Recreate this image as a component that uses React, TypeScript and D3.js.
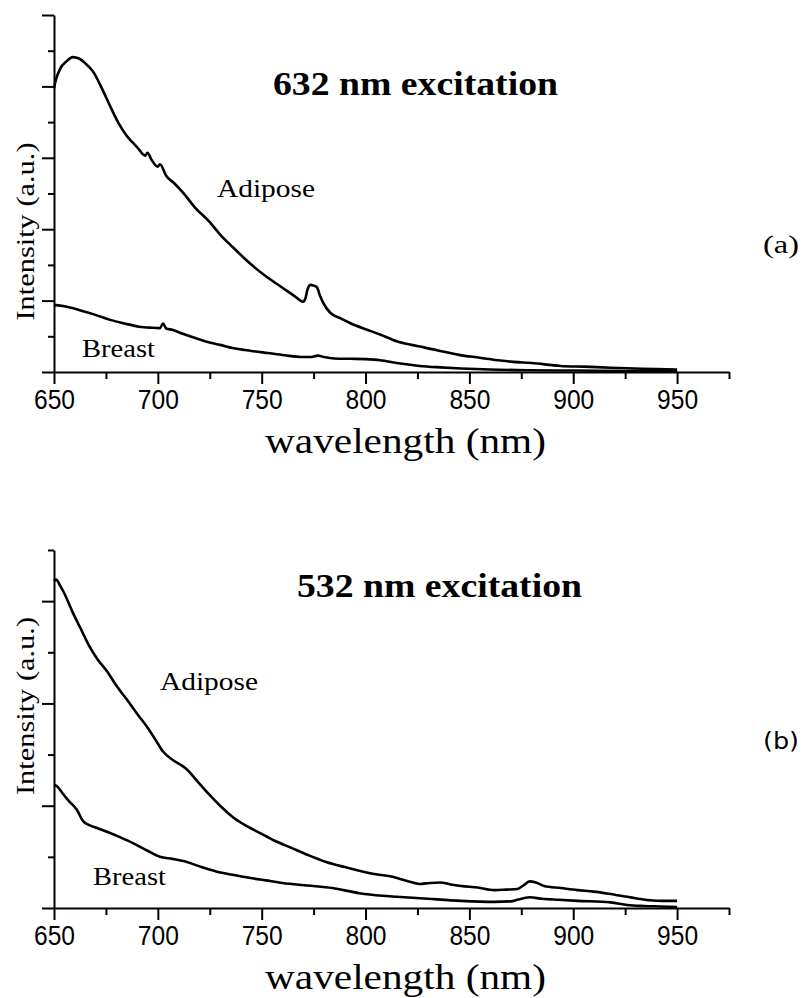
import React, { useEffect, useRef } from 'react';
import * as d3 from 'd3';

// [wavelength nm, intensity a.u.]
const adipose632: [number, number][] = [
  [650, 7.95], [651, 8.2], [653, 8.5], [656, 8.7], [659, 8.82], [662, 8.78], [665, 8.65],
  [669, 8.4], [673, 7.95], [677, 7.45], [681, 6.98], [685, 6.62], [690, 6.3], [694, 6.06],
  [695, 6.14], [697, 5.94], [700, 5.75], [701, 5.82], [704, 5.5], [708, 5.28], [712, 5.03],
  [718, 4.6], [725, 4.2], [730, 3.85], [736, 3.5], [744, 3.06], [752, 2.68], [760, 2.36],
  [766, 2.12], [770, 1.97], [771, 2.05], [772, 2.3], [773.5, 2.44], [775, 2.42], [776.5, 2.38],
  [778, 2.15], [779.5, 1.95], [783, 1.66], [788, 1.5], [793, 1.36], [800, 1.2], [807, 1.05],
  [815, 0.86], [822, 0.76], [828, 0.69], [835, 0.6], [845, 0.48], [855, 0.4], [865, 0.32],
  [870, 0.29], [880, 0.25], [894, 0.17], [905, 0.15], [918, 0.12], [930, 0.1], [940, 0.08],
  [950, 0.07],
];

const breast632: [number, number][] = [
  [650, 1.88], [655, 1.84], [662, 1.74], [670, 1.6], [677, 1.46], [684, 1.36], [691, 1.27],
  [697, 1.24], [701, 1.23], [702.5, 1.36], [704, 1.22], [707, 1.18], [712, 1.07], [718, 0.95],
  [724, 0.84], [730, 0.76], [736, 0.67], [745, 0.59], [753, 0.53], [761, 0.47], [769, 0.42],
  [774, 0.42], [777, 0.46], [780, 0.42], [785, 0.38], [793, 0.37], [800, 0.36], [807, 0.33],
  [815, 0.25], [826, 0.17], [836, 0.13], [846, 0.1], [860, 0.07], [878, 0.05], [900, 0.04],
  [925, 0.03], [950, 0.03],
];

const adipose532: [number, number][] = [
  [650, 6.39], [651, 6.42], [653, 6.3], [655, 6.15], [659, 5.78], [663, 5.45], [667, 5.12],
  [671, 4.86], [675.5, 4.63], [680, 4.35], [685, 4.08], [690, 3.8], [695, 3.53], [699, 3.28],
  [702.5, 3.06], [707, 2.9], [711, 2.8], [714, 2.71], [719, 2.48], [724, 2.25], [730, 2.0],
  [736, 1.78], [742, 1.62], [749, 1.47], [756, 1.32], [764, 1.18], [772, 1.04], [781, 0.9],
  [790, 0.8], [797, 0.73], [805, 0.66], [813, 0.61], [820, 0.53], [826, 0.47], [831, 0.49],
  [836, 0.5], [841, 0.46], [846, 0.43], [854, 0.4], [862, 0.35], [868, 0.36], [873, 0.37],
  [876, 0.44], [879, 0.52], [882, 0.5], [886, 0.43], [894, 0.39], [902, 0.35], [910, 0.32],
  [917, 0.28], [923, 0.24], [930, 0.19], [937, 0.15], [943, 0.14], [950, 0.14],
];

const breast532: [number, number][] = [
  [650, 2.41], [652, 2.36], [654, 2.25], [657, 2.1], [661, 1.92], [664, 1.7], [667, 1.62],
  [671, 1.56], [675.5, 1.49], [682, 1.38], [688, 1.27], [695, 1.12], [701, 1.0], [707, 0.96],
  [714, 0.9], [721, 0.8], [728.5, 0.71], [736, 0.65], [744, 0.59], [752, 0.54], [760, 0.49],
  [772, 0.44], [784, 0.39], [797, 0.29], [808, 0.24], [815, 0.22], [830, 0.18], [846, 0.14],
  [862, 0.12], [870, 0.13], [873, 0.16], [879, 0.21], [885, 0.18], [893, 0.16], [902, 0.14],
  [918, 0.11], [926, 0.06], [934, 0.04], [942, 0.03], [950, 0.02],
];

const xMajor = [650, 700, 750, 800, 850, 900, 950];
const xMinor = [675, 725, 775, 825, 875, 925, 975];
const yMajorA = [0, 2, 4, 6, 8, 10];
const yMinorA = [1, 3, 5, 7, 9];
const yMajorB = [0, 2, 4, 6];
const yMinorB = [1, 3, 5, 7];

const serif = 'Liberation Serif, Times New Roman, serif';

const App = () => {
  const ref = useRef<SVGSVGElement | null>(null);

  useEffect(() => {
    if (!ref.current) return;
    const svg = d3.select(ref.current);
    svg.selectAll('*').remove();

    const x = d3.scaleLinear().domain([650, 975]).range([54, 729]);

    const panel = (opts: any) => {
      const y = d3.scaleLinear().domain([0, opts.yMax]).range([opts.bottom, opts.top]);
      const g = svg.append('g');

      // y axis, long and short ticks
      g.append('g').attr('transform', 'translate(54,0)')
        .call(d3.axisLeft(y).tickValues(opts.yMajor).tickSize(12).tickSizeOuter(0).tickFormat(() => ''));
      g.append('g').attr('transform', 'translate(54,0)')
        .call(d3.axisLeft(y).tickValues(opts.yMinor).tickSize(6).tickSizeOuter(0).tickFormat(() => ''))
        .select('.domain').remove();

      // x axis
      const xa = g.append('g').attr('transform', `translate(0,${opts.bottom})`)
        .call(d3.axisBottom(x).tickValues(xMajor).tickSize(12).tickSizeOuter(0));
      g.append('g').attr('transform', `translate(0,${opts.bottom})`)
        .call(d3.axisBottom(x).tickValues(xMinor).tickSize(7).tickSizeOuter(0).tickFormat(() => ''))
        .select('.domain').remove();

      xa.selectAll('text')
        .attr('y', 37).attr('dy', null)
        .attr('font-family', 'Liberation Sans, Arial, sans-serif')
        .attr('font-size', 27)
        .attr('textLength', 41)
        .attr('lengthAdjust', 'spacingAndGlyphs')
        .attr('fill', '#000');

      g.selectAll('.domain, .tick line').attr('stroke', '#000').attr('stroke-width', 2);

      const line = d3.line<[number, number]>()
        .x(d => x(d[0])).y(d => y(d[1]))
        .curve(d3.curveMonotoneX);
      [opts.adipose, opts.breast].forEach(s => {
        g.append('path').datum(s).attr('d', line)
          .attr('fill', 'none').attr('stroke', '#000')
          .attr('stroke-width', 2.6).attr('stroke-linejoin', 'round');
      });

      const txt = (t: string, tx: number, ty: number, size: number, len: number, extra: any = {}) => {
        const el = g.append('text').text(t).attr('x', tx).attr('y', ty)
          .attr('font-family', extra.family || serif).attr('font-size', size)
          .attr('fill', '#000');
        if (len) el.attr('textLength', len).attr('lengthAdjust', 'spacingAndGlyphs');
        if (extra.bold) el.attr('font-weight', 'bold');
        return el;
      };

      txt(opts.title, opts.titleX, opts.titleY, 34, 285, { bold: true });
      txt('Adipose', opts.adX, opts.adY, 26, 98);
      txt('Breast', opts.brX, opts.brY, 26, 73);
      txt('wavelength (nm)', 265, opts.bottom + 81, 35, 281);
      const mid = (opts.top + opts.bottom) / 2 + opts.yLabelShift;
      txt('Intensity (a.u.)', 0, 0, 26, 178)
        .attr('text-anchor', 'middle')
        .attr('transform', `translate(34,${mid}) rotate(-90)`);
      txt(opts.tag, 763, opts.tagY, opts.tagSize, 36, { family: opts.tagFamily });
    };

    panel({
      yMax: 10, top: 15, bottom: 372, yMajor: yMajorA, yMinor: yMinorA,
      adipose: adipose632, breast: breast632,
      title: '632 nm excitation', titleX: 273, titleY: 95,
      adX: 217, adY: 197, brX: 82, brY: 357, yLabelShift: 38,
      tag: '(a)', tagY: 253, tagSize: 26, tagFamily: serif,
    });
    panel({
      yMax: 7, top: 550, bottom: 908, yMajor: yMajorB, yMinor: yMinorB,
      adipose: adipose532, breast: breast532,
      title: '532 nm excitation', titleX: 297, titleY: 597,
      adX: 160, adY: 690, brX: 93, brY: 885, yLabelShift: -23,
      tag: '(b)', tagY: 749, tagSize: 23, tagFamily: 'DejaVu Sans, sans-serif',
    });
  }, []);

  return (
    <svg ref={ref} width={805} height={998}
      style={{ position: 'absolute', left: 0, top: 0, background: '#fff' }} />
  );
};

export default App;
